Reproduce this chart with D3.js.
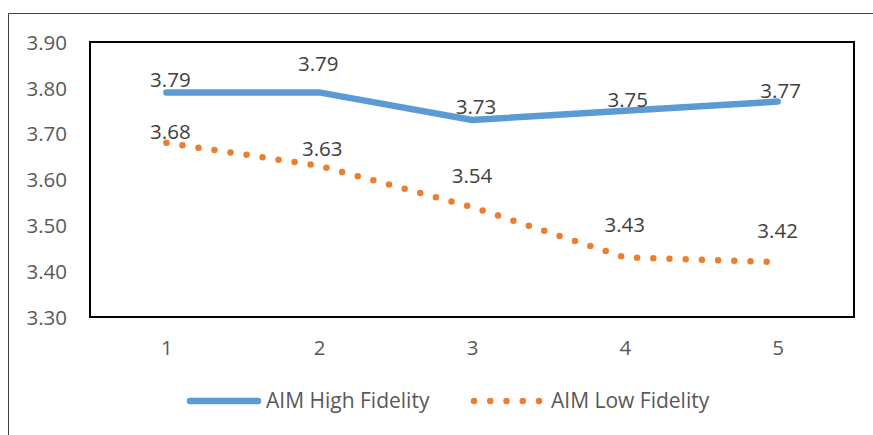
<!DOCTYPE html>
<html>
<head>
<meta charset="utf-8">
<script src="https://cdn.jsdelivr.net/npm/d3@7"></script>
<style>
  html, body { margin: 0; padding: 0; background: #fff; }
  svg { display: block; font-family: "Open Sans", sans-serif; }
</style>
</head>
<body>
<svg id="chart" width="873" height="435"></svg>
<script>
// Survey waves and mean scores for the two fidelity groups
const waves = [1, 2, 3, 4, 5];
const highFidelity = [3.79, 3.79, 3.73, 3.75, 3.77];
const lowFidelity = [3.68, 3.63, 3.54, 3.43, 3.42];
const yTicks = [3.30, 3.40, 3.50, 3.60, 3.70, 3.80, 3.90];
const seriesNames = ["AIM High Fidelity", "AIM Low Fidelity"];

// Hand-placed data label nudges (pixels) relative to each point
const highLabelNudge = [[4, -13], [-1, -29], [4, -13], [3, -11], [3, -11]];
const lowLabelNudge = [[4, -11], [3, -17], [0, -31], [0, -33], [0, -31]];

const BLUE = "#5B9BD5";
const ORANGE = "#ED7D31";
const FS = 20.5;
const LEGEND_FS = 21;

const svg = d3.select("#chart");
const plot = { left: 90, top: 42, right: 854, bottom: 317 };

const x = d3.scalePoint().domain(waves).range([plot.left, plot.right]).padding(0.5);
const y = d3.scaleLinear().domain([3.3, 3.9]).range([plot.bottom, plot.top]);

// Outer chart frame (left and top edges)
svg.append("path")
  .attr("d", "M8.5,435 V13.5 H873")
  .attr("fill", "none").attr("stroke", "#404040").attr("stroke-width", 1);

// Plot area border
svg.append("rect")
  .attr("x", plot.left).attr("y", plot.top)
  .attr("width", plot.right - plot.left).attr("height", plot.bottom - plot.top)
  .attr("fill", "none").attr("stroke", "#000").attr("stroke-width", 2);

// Y axis labels
const yAxis = svg.append("g")
  .attr("transform", `translate(${plot.left - 23},0)`)
  .call(d3.axisLeft(y).tickValues(yTicks).tickFormat(d3.format(".2f")).tickSize(0).tickPadding(0));
yAxis.select(".domain").remove();
yAxis.selectAll("text")
  .attr("font-family", "Open Sans").attr("font-size", FS).attr("fill", "#595959")
  .attr("dy", null)
  .attr("y", FS * 0.357);

// X axis labels
const xAxis = svg.append("g")
  .attr("transform", `translate(0,348)`)
  .call(d3.axisBottom(x).tickSize(0).tickPadding(0));
xAxis.select(".domain").remove();
xAxis.selectAll("text")
  .attr("font-family", "Open Sans").attr("font-size", FS).attr("fill", "#595959")
  .attr("dy", null).attr("y", FS * 0.357);

const line = d3.line().x((d, i) => x(waves[i])).y(d => y(d));

// Low fidelity: round dotted line
svg.append("path")
  .datum(lowFidelity)
  .attr("d", line)
  .attr("fill", "none").attr("stroke", ORANGE).attr("stroke-width", 6.5)
  .attr("stroke-linecap", "round").attr("stroke-dasharray", "0 16.2");

// High fidelity: solid line
svg.append("path")
  .datum(highFidelity)
  .attr("d", line)
  .attr("fill", "none").attr("stroke", BLUE).attr("stroke-width", 6.5)
  .attr("stroke-linecap", "round").attr("stroke-linejoin", "miter");

// Data labels
function labels(values, nudge) {
  svg.append("g").selectAll("text")
    .data(values)
    .join("text")
    .attr("x", (d, i) => x(waves[i]) + nudge[i][0])
    .attr("y", (d, i) => y(d) + nudge[i][1] + FS * 0.357)
    .attr("text-anchor", "middle")
    .attr("font-size", FS).attr("fill", "#404040")
    .text(d => d.toFixed(2));
}
labels(lowFidelity, lowLabelNudge);
labels(highFidelity, highLabelNudge);

// Legend
const legend = svg.append("g");
legend.append("line")
  .attr("x1", 190).attr("x2", 258).attr("y1", 401).attr("y2", 401)
  .attr("stroke", BLUE).attr("stroke-width", 6.5).attr("stroke-linecap", "round");
legend.append("text")
  .attr("x", 266).attr("y", 408)
  .attr("font-size", LEGEND_FS).attr("fill", "#595959")
  .text(seriesNames[0]);
legend.append("line")
  .attr("x1", 474).attr("x2", 539.5).attr("y1", 401).attr("y2", 401)
  .attr("stroke", ORANGE).attr("stroke-width", 6.5).attr("stroke-linecap", "round")
  .attr("stroke-dasharray", "0 16.25");
legend.append("text")
  .attr("x", 551).attr("y", 408)
  .attr("font-size", LEGEND_FS).attr("fill", "#595959")
  .text(seriesNames[1]);
</script>
</body>
</html>
